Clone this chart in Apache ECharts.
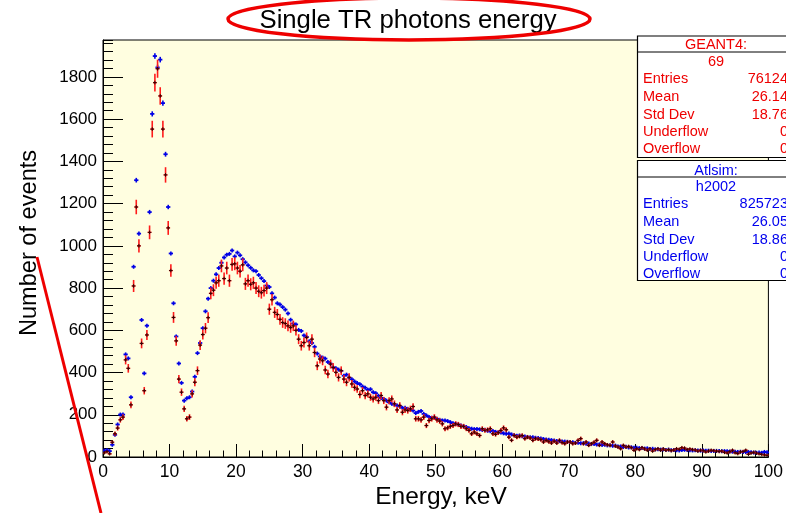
<!DOCTYPE html>
<html><head><meta charset="utf-8">
<script src="https://cdn.jsdelivr.net/npm/echarts@6/dist/echarts.min.js"></script>
<style>html,body{margin:0;padding:0;background:#fff}#c{width:786px;height:513px}</style>
</head><body><div id="c"></div>
<script>
// Histogram binning: 250 bins from 0 to 100 keV
const X_MIN = 0, X_MAX = 100, N_BINS = 250;
const BIN_W = (X_MAX - X_MIN) / N_BINS;

// GEANT4 (red) bin contents
const geant4 = [
20,25,15,70,110,137,176,189,460,420,
247,810,1184,1000,538,314,578,1064,1553,1773,
1839,1710,1553,1336,1085,883,661,550,369,307,
228,181,189,299,354,409,530,580,610,660,
775,790,825,835,905,845,895,835,912,915,
895,880,910,820,835,818,825,800,785,778,
788,800,700,745,685,675,652,637,632,621,
613,621,600,558,527,542,566,527,558,495,
432,464,456,412,393,440,424,401,377,409,
369,354,377,346,330,322,296,314,291,299,
283,275,283,267,291,267,236,267,275,252,
223,244,212,223,220,228,239,181,181,176,
189,149,173,181,189,176,170,157,134,138,
145,149,157,154,145,145,134,126,110,118,
110,102,134,126,129,134,110,107,115,126,
138,129,94,79,102,94,98,102,87,94,
90,79,87,85,82,71,79,72,66,75,
66,79,68,63,71,71,63,66,79,87,
63,71,55,63,70,79,55,71,63,58,
55,71,52,47,39,55,47,50,44,32,
39,35,44,38,32,39,28,35,39,32,
38,32,35,30,33,39,37,44,42,35,
38,35,33,28,32,30,24,28,32,30,
28,26,28,22,19,25,32,20,16,24,
26,32,13,19,22,18,15,12,10,8
];

// Atlsim (blue) bin contents
const atlsim = [
30,32,28,58,105,154,201,201,486,467,
283,901,1311,1058,649,396,622,1160,1625,1899,
1845,1882,1676,1434,1184,964,728,571,443,351,
267,278,283,310,380,492,540,610,690,750,
800,835,865,895,920,945,958,962,978,950,
968,955,937,922,908,896,884,880,862,847,
833,812,805,775,755,728,722,710,698,680,
650,632,628,602,597,576,569,548,540,522,
490,476,471,466,450,442,425,420,414,408,
385,390,376,368,358,350,345,334,328,318,
321,307,302,290,280,275,267,259,252,248,
244,239,233,233,228,223,220,208,214,218,
204,197,190,186,186,181,176,173,173,170,
165,160,157,154,149,145,142,136,134,132,
133,131,128,129,124,122,123,119,117,116,
112,110,111,107,103,101,102,98,97,95,
94,93,91,90,88,85,83,82,80,78,
76,75,74,73,72,71,70,67,67,65,
66,63,64,61,62,59,60,57,58,55,
56,53,54,50,50,47,48,45,46,44,
44,42,43,40,41,38,39,36,37,35,
36,33,35,32,33,32,31,33,34,33,
32,31,32,31,30,31,30,30,29,28,
29,28,27,28,27,26,25,25,24,25,
24,23,24,22,21,20,21,20,24,22
];

const Y_MAX = 1975;
const ATLSIM_SCALE = 825723 / 76124;

const geant4Stats = [['Entries','76124'],['Mean','26.14'],['Std Dev','18.76'],['Underflow','0'],['Overflow','0']];
const atlsimStats = [['Entries','825723'],['Mean','26.05'],['Std Dev','18.86'],['Underflow','0'],['Overflow','0']];

const FONT = '"Liberation Sans", Arial, Helvetica, sans-serif';

function binCenter(i){ return X_MIN + (i + 0.5) * BIN_W; }
const redData = geant4.map((v,i)=>[binCenter(i), v, Math.sqrt(v)]);
const blueData = atlsim.map((v,i)=>[binCenter(i), v, Math.sqrt(v / ATLSIM_SCALE)]);

function renderRed(params, api){
  const x = api.value(0), y = api.value(1), e = api.value(2);
  const c = api.coord([x, y]);
  const t = api.coord([x, y + e]);
  const b = api.coord([x, Math.max(0, y - e)]);
  const l = api.coord([x - BIN_W/2, y]);
  const r = api.coord([x + BIN_W/2, y]);
  return {type:'group', children:[
    {type:'line', shape:{x1:c[0], y1:t[1], x2:c[0], y2:b[1]}, style:{stroke:'#ff1a1a', lineWidth:1.6}},
    {type:'line', shape:{x1:l[0]-0.6, y1:c[1], x2:r[0]+0.6, y2:c[1]}, style:{stroke:'#ff1a1a', lineWidth:1.4}},
    {type:'line', shape:{x1:c[0]-1.8, y1:c[1], x2:c[0]+1.8, y2:c[1]}, style:{stroke:'#300000', lineWidth:1}},
    {type:'line', shape:{x1:c[0], y1:c[1]-1.8, x2:c[0], y2:c[1]+1.8}, style:{stroke:'#300000', lineWidth:1}}
  ]};
}
function renderBlue(params, api){
  const x = api.value(0), y = api.value(1), e = api.value(2);
  const c = api.coord([x, y]);
  const t = api.coord([x, y + e]);
  const b = api.coord([x, Math.max(0, y - e)]);
  const l = api.coord([x - BIN_W/2, y]);
  const r = api.coord([x + BIN_W/2, y]);
  const top = Math.min(t[1], c[1]-2), bot = Math.max(b[1], c[1]+2);
  return {type:'group', children:[
    {type:'line', shape:{x1:c[0], y1:top, x2:c[0], y2:bot}, style:{stroke:'#0000e6', lineWidth:1.6}},
    {type:'line', shape:{x1:l[0]-0.8, y1:c[1], x2:r[0]+0.8, y2:c[1]}, style:{stroke:'#0000e6', lineWidth:1.8}}
  ]};
}

const chart = echarts.init(document.getElementById('c'), null, {renderer:'canvas'});

const G = {left:103, right:12, top:40, bottom:56};

function statsBox(y0, h, color, title, name, rows, rowYs, titleY, sepY, nameY){
  const f = '14.5px ' + FONT;
  const els = [
    {type:'rect', shape:{x:637.5, y:y0, width:170, height:h}, style:{fill:'#ffffff', stroke:'#000', lineWidth:1.2}, z:100},
    {type:'line', shape:{x1:637.5, y1:sepY, x2:800, y2:sepY}, style:{stroke:'#000', lineWidth:1}, z:101},
    {type:'text', x:716, y:titleY, style:{text:title, fill:color, font:f, textAlign:'center', textVerticalAlign:'middle', verticalAlign:'middle'}, z:102},
    {type:'text', x:716, y:nameY, style:{text:name, fill:color, font:f, textAlign:'center', textVerticalAlign:'middle', verticalAlign:'middle'}, z:102}
  ];
  rows.forEach((r,k)=>{
    els.push({type:'text', x:643, y:rowYs[k], style:{text:r[0], fill:color, font:f, textAlign:'left', textVerticalAlign:'middle', verticalAlign:'middle'}, z:102});
    els.push({type:'text', x:788, y:rowYs[k], style:{text:r[1], fill:color, font:f, textAlign:'right', textVerticalAlign:'middle', verticalAlign:'middle'}, z:102});
  });
  return els;
}

const graphics = [
  {type:'text', x:408, y:21, style:{text:'Single TR photons energy', fill:'#000', font:'25.7px '+FONT, textAlign:'center', textVerticalAlign:'middle', verticalAlign:'middle'}, z:50},
  {type:'ellipse', shape:{cx:409, cy:19, rx:181, ry:21}, style:{fill:null, stroke:'#ee0000', lineWidth:3.5}, z:60},
  {type:'text', x:29, y:243, rotation:Math.PI/2, style:{text:'Number of events', fill:'#000', font:'23.6px '+FONT, textAlign:'center', textVerticalAlign:'middle', verticalAlign:'middle'}, z:50},
  {type:'text', x:441, y:497, style:{text:'Energy, keV', fill:'#000', font:'24.5px '+FONT, textAlign:'center', textVerticalAlign:'middle', verticalAlign:'middle'}, z:50},
  {type:'line', shape:{x1:37, y1:257, x2:101, y2:513}, style:{stroke:'#ee0000', lineWidth:3}, z:60}
].concat(
  statsBox(36, 121.5, '#ee0000', 'GEANT4:', '69', geant4Stats, [79,97,115,132,149], 45, 52, 62),
  statsBox(160.5, 120, '#0000ee', 'Atlsim:', 'h2002', atlsimStats, [204,222,240,257,274], 171, 177, 187)
);

chart.setOption({
  animation:false,
  backgroundColor:'#ffffff',
  grid:[
    Object.assign({show:true, backgroundColor:'#fffee0', borderColor:'#000', borderWidth:1}, G),
    Object.assign({show:false}, G)
  ],
  xAxis:[
    {gridIndex:0, type:'value', min:X_MIN, max:X_MAX, interval:10,
     axisLine:{show:true, lineStyle:{color:'#000', width:1}},
     axisTick:{show:true, inside:true, length:13, lineStyle:{color:'#000', width:1}},
     minorTick:{show:true, splitNumber:5, length:6.5, lineStyle:{color:'#000', width:1}},
     axisLabel:{color:'#000', fontSize:17.5, fontFamily:FONT, margin:6},
     splitLine:{show:false}},
    {gridIndex:1, type:'value', min:X_MIN, max:X_MAX, show:false}
  ],
  yAxis:[
    {gridIndex:0, type:'value', min:0, max:Y_MAX, interval:200,
     axisLine:{show:true, lineStyle:{color:'#000', width:1}},
     axisTick:{show:true, inside:true, length:20, lineStyle:{color:'#000', width:1}},
     axisLabel:{color:'#000', fontSize:17, fontFamily:FONT, margin:6, showMaxLabel:false,
       formatter:v => (v % 200 === 0 ? String(v) : '')},
     splitLine:{show:false}},
    {gridIndex:1, type:'value', min:0, max:Y_MAX, interval:40,
     axisLine:{show:false},
     axisTick:{show:true, inside:true, length:10, lineStyle:{color:'#000', width:1}},
     axisLabel:{show:false}, splitLine:{show:false}}
  ],
  series:[
    {type:'custom', name:'Atlsim', xAxisIndex:0, yAxisIndex:0, data:blueData, renderItem:renderBlue, clip:true, z:2},
    {type:'custom', name:'GEANT4', xAxisIndex:0, yAxisIndex:0, data:redData, renderItem:renderRed, clip:true, z:3}
  ],
  graphic:graphics
});
</script></body></html>
